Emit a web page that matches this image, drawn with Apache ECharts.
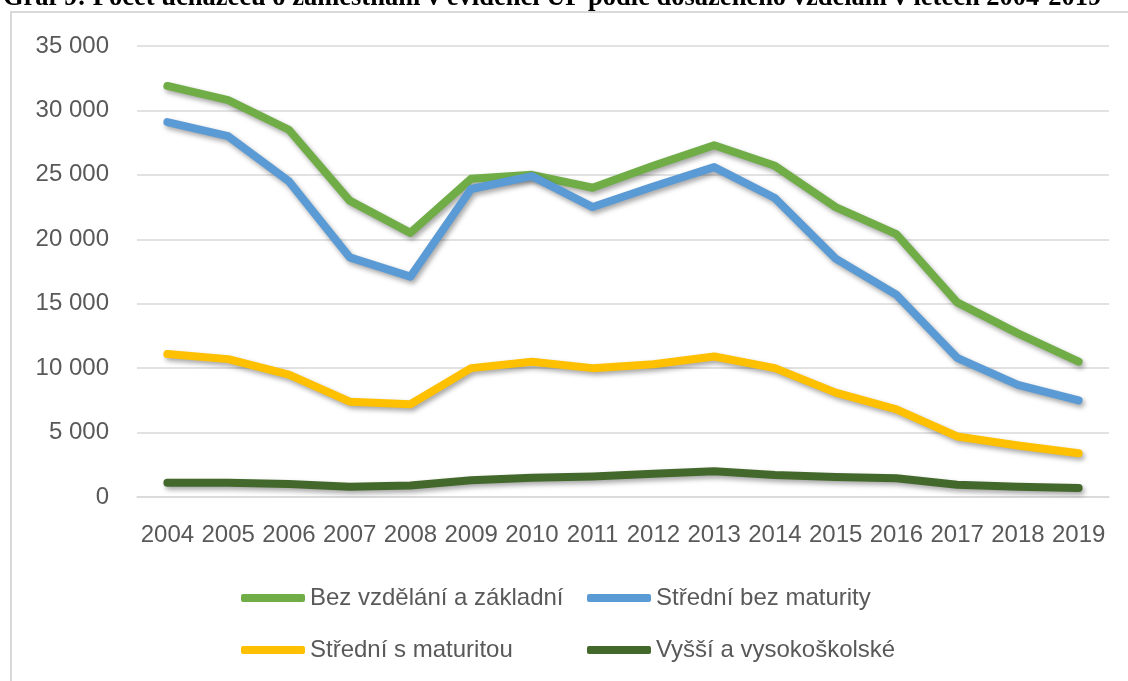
<!DOCTYPE html>
<html>
<head>
<meta charset="utf-8">
<script src="https://cdn.jsdelivr.net/npm/echarts@6/dist/echarts.min.js"></script>
<style>
html,body{margin:0;padding:0;background:#fff;}
#c{width:1128px;height:681px;}
</style>
</head>
<body>
<div id="c"></div>
<script>
var titleText = 'Graf 9: Počet uchazečů o zaměstnání v evidenci ÚP podle dosaženého vzdělání v letech 2004-2019';
var years = ['2004','2005','2006','2007','2008','2009','2010','2011','2012','2013','2014','2015','2016','2017','2018','2019'];
var seriesNames = ['Bez vzdělání a základní','Střední bez maturity','Střední s maturitou','Vyšší a vysokoškolské'];
var bezZakladni = [31900,30800,28500,23000,20500,24700,25000,24000,25700,27300,25700,22500,20400,15100,12700,10500];
var stredniBez = [29100,28000,24500,18600,17100,23900,24900,22500,24100,25600,23200,18500,15700,10800,8700,7500];
var stredniS = [11100,10700,9500,7400,7200,10000,10500,10000,10300,10900,10000,8100,6800,4700,4000,3400];
var vyssi = [1100,1100,1000,800,900,1300,1500,1600,1800,2000,1700,1550,1450,950,800,700];
var colors = ['#70AD47','#5B9BD5','#FFC000','#43682B'];

var chart = echarts.init(document.getElementById('c'));
function mk(name, data, color){
  return {
    name: name, type: 'line', data: data, symbol: 'none', smooth: false,
    itemStyle: {color: color},
    lineStyle: {color: color, width: 8, cap: 'round', join: 'round',
      shadowColor: 'rgba(0,0,0,0.35)', shadowBlur: 5, shadowOffsetX: 2, shadowOffsetY: 3}
  };
}
var legendCommon = {
  orient: 'vertical', icon: 'roundRect', itemWidth: 64, itemHeight: 8, itemGap: 28, itemTextGap: 4,
  textStyle: {color: '#595959', fontSize: 24, lineHeight: 24, fontFamily: 'Liberation Sans'}
};
var option = {
  animation: false,
  backgroundColor: '#fff',
  graphic: [
    {type: 'rect', shape: {x: 11, y: 12, width: 1140, height: 700}, style: {fill: 'none', stroke: '#D9D9D9', lineWidth: 2}, z: -1},
    {type: 'text', x: 3, y: -2, style: {text: titleText, font: 'bold 26.5px "Liberation Serif"', fill: '#000', verticalAlign: 'middle'}}
  ],
  grid: {left: 137, right: 19, top: 46, bottom: 184},
  legend: [
    Object.assign({left: 236, top: 581, data: [seriesNames[0], seriesNames[2]]}, legendCommon),
    Object.assign({left: 582, top: 581, data: [seriesNames[1], seriesNames[3]]}, legendCommon)
  ],
  xAxis: {
    type: 'category', data: years, boundaryGap: true,
    axisLine: {show: true, lineStyle: {color: '#D9D9D9', width: 1.5}},
    axisTick: {show: false},
    axisLabel: {color: '#595959', fontSize: 24, fontFamily: 'Liberation Sans', margin: 26, interval: 0}
  },
  yAxis: {
    type: 'value', min: 0, max: 35000, interval: 5000,
    axisLine: {show: false}, axisTick: {show: false},
    splitLine: {lineStyle: {color: '#D9D9D9', width: 1.5}},
    axisLabel: {color: '#595959', fontSize: 24, fontFamily: 'Liberation Sans', margin: 28,
      formatter: function(v){ return String(v).replace(/\B(?=(\d{3})+(?!\d))/g, ' '); }}
  },
  series: [
    mk(seriesNames[0], bezZakladni, colors[0]),
    mk(seriesNames[1], stredniBez, colors[1]),
    mk(seriesNames[2], stredniS, colors[2]),
    mk(seriesNames[3], vyssi, colors[3])
  ]
};
chart.setOption(option);
</script>
</body>
</html>
